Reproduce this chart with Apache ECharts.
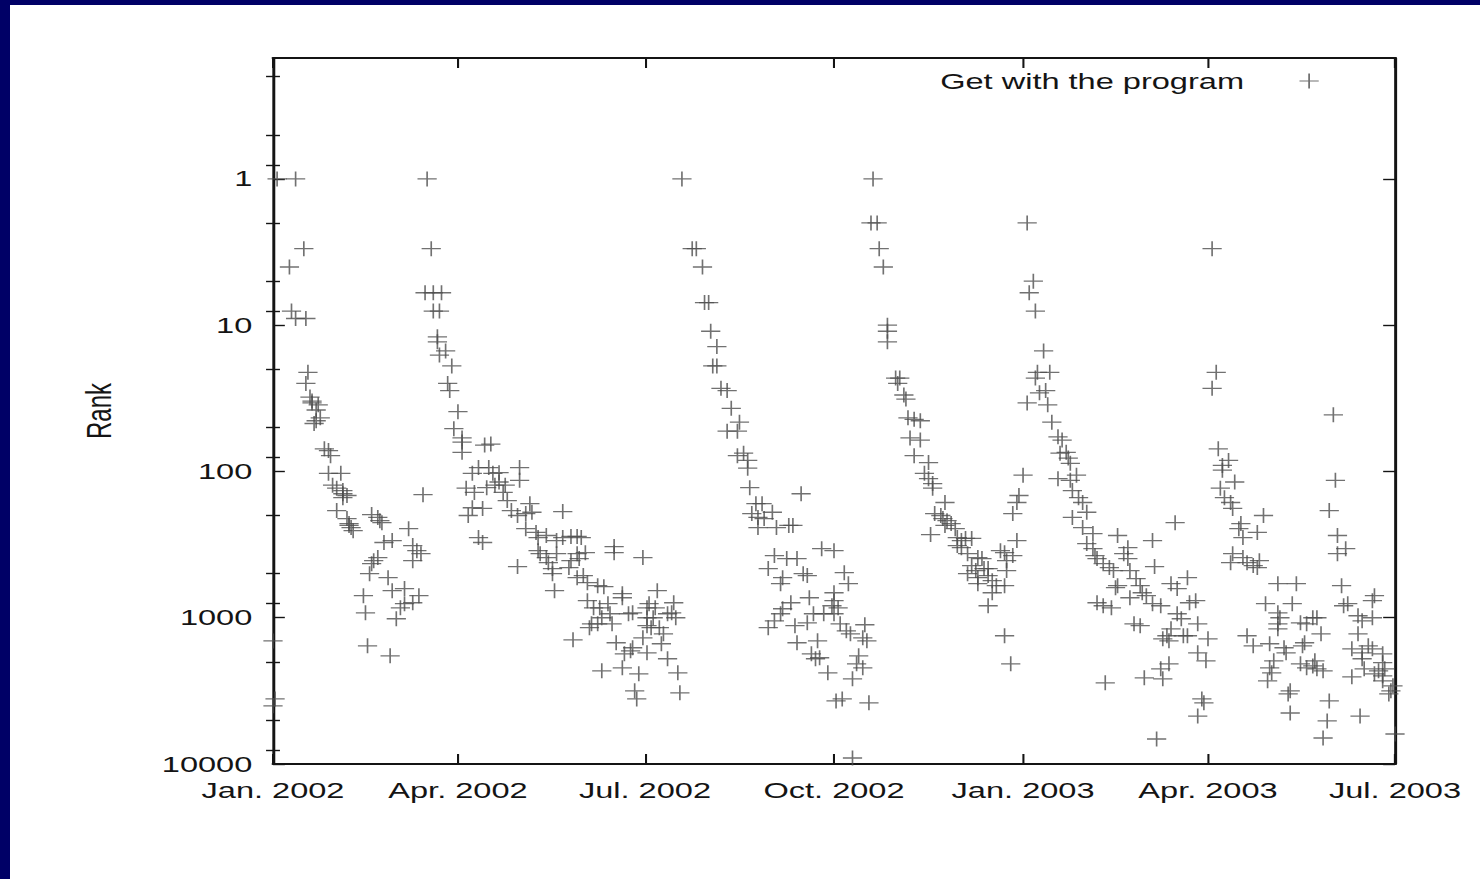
<!DOCTYPE html>
<html>
<head>
<meta charset="utf-8">
<title>Get with the program - rank over time</title>
<script src="https://cdn.jsdelivr.net/npm/echarts@6/dist/echarts.min.js"></script>
<style>
  html, body { margin: 0; padding: 0; width: 1480px; height: 879px; overflow: hidden; background: #000066; }
  #paper { position: absolute; left: 10px; top: 5px; right: 0; bottom: 0; background: #ffffff; }
  #chart { position: absolute; left: 0; top: 0; height: 879px; transform-origin: 0 0; }
</style>
</head>
<body>
<div id="paper"></div>
<div id="chart"></div>
<script>
// Daily chart rank of "Get with the program"; x = days since 1 Jan 2002, y = rank.
const q1_2002 = [
  [0,1440],[1,3590],[0,4000],[2,1],[11,1],[15,3],[8,4],[9,8],[11,9],[16,9],[17,21],[16,25],
  [18,31],[19,34],[19,33],[22,35],[21,38],[21,45],[20,47],[23,43],[25,70],[28,78],[27,72],
  [27,103],[33,103],[29,124],[31,130],[34,135],[34,142],[36,146],[34,151],[31,185],[36,210],
  [37,227],[38,242],[39,254],[37,234],[48,197],[51,206],[52,217],[53,224],[66,246],[54,306],
  [58,297],[68,321],[70,348],[72,365],[68,407],[51,388],[49,407],[48,427],[47,500],[56,532],
  [44,707],[58,653],[64,632],[71,707],[68,790],[64,802],[62,855],[45,925],[60,1016],[46,1555],
  [57,1820],[73,144],
  [75,1],[77,3],[74,6],[78,6],[82,6],[78,8],[81,8],[80,12],[80,13],[84,15],[81,16],[87,19],
  [85,25],[86,28],[88,51]
];
const q2_2002 = [
  [90,39],[92,63],[92,74],[92,59],[106,65],[103,66],[105,94],[100,94],[120,94],
  [97,103],[107,103],[110,102],[94,130],[98,139],[104,129],[108,124],[110,118],[113,124],
  [120,115],[112,139],[97,177],[102,179],[95,200],[114,158],[116,185],[119,200],[123,194],
  [125,166],[126,190],[141,188],[123,246],[128,261],[129,283],[133,274],[138,297],[141,283],
  [145,278],[148,278],[150,283],[100,283],[102,306],[166,326],[166,359],[180,388],[130,365],
  [133,388],[129,348],[138,365],[148,365],[152,359],[149,394],[119,447],[134,420],[136,461],
  [144,454],[145,407],[136,500],[148,532],[151,515],[153,576],[161,613],[158,604],[137,653],
  [170,685],[170,730],[153,765],[156,855],[159,855],[163,802],[164,939],[160,1000],[155,1100],
  [154,1170],[158,1100],[165,1100],[173,939],[175,925],[180,1371],[146,1415],[167,1483],
  [174,1683],[171,1764],[175,1604],[160,2306],[170,2199],[178,2418],[176,3162],[177,3589]
];
const q3_2002 = [
  [182,855],[182,1000],[182,1134],[187,653],[183,802],[186,855],[195,790],[185,1000],[192,939],
  [194,925],[196,1000],[188,1170],[184,1170],[190,1288],[189,1506],[182,1736],[192,1907],
  [197,2380],[198,3263],
  [199,1],[204,3],[206,3],[209,4],[210,7],[212,7],[213,11],[216,14],[214,19],[216,19],[218,27],
  [221,28],[223,37],[227,46],[221,53],[226,53],[226,78],[229,75],[231,84],
  [231,95],[232,129],[257,142],[235,166],[238,166],[233,194],[236,206],[239,210],[243,190],
  [236,242],[245,242],[251,234],[253,234],[267,337],[244,376],[250,394],[255,394],[241,461],
  [248,532],[247,585],[258,500],[260,515],[261,730],[252,790],[248,868],[247,939],[244,1049],
  [241,1170],[254,1134],[260,1083],[263,939],[268,939],[265,1438],[255,1483],[262,1764],
  [264,1907],[266,1877],[270,2380],[272,828]
];
const q4_2002 = [
  [273,348],[273,675],[273,765],[274,3702],[278,492],[280,585],[275,855],[273,939],[276,1100],
  [279,1228],[281,1288],[288,1117],[287,1371],[289,1438],[285,1820],[284,2066],[287,2199],
  [282,2616],[277,3589],[290,3820],[282,9100],
  [292,1],[291,2],[294,2],[295,3],[297,4],[299,10],[299,11],[299,13],[303,23],[305,23],[304,25],
  [307,30],[308,32],[309,43],[312,44],[315,45],[310,59],[315,61],[312,78],[319,87],
  [317,103],[319,112],[321,121],[321,130],[327,163],[322,194],[325,200],[326,210],[328,217],
  [327,234],[330,227],[332,246],[320,270],[333,283],[335,297],[337,287],[340,287],[333,321],
  [335,332],[338,365],[343,388],[345,394],[340,440],[342,476],[346,461],[348,461],[338,500],
  [343,532],[343,585],[348,515],[350,558],[352,604],[350,675],[356,604],[357,476],[354,348],
  [356,359],[360,376],[357,407],[348,828],[356,1328],[359,2066],[362,297],[360,194],[362,163],
  [363,146]
];
const q1_2003 = [
  [365,106],[367,2],[370,5],[368,6],[371,8],[375,15],[378,21],[372,21],[371,23],[376,28],
  [373,29],[367,34],[377,35],[379,46],[382,58],[384,61],[383,75],[386,74],[387,81],[388,88],
  [382,112],[388,115],[391,106],[389,135],[392,151],[394,163],[396,190],[389,206],[394,242],
  [399,266],[396,311],[399,337],[400,376],[401,394],[404,427],[407,454],[409,476],[411,274],
  [416,332],[414,365],[416,394],[428,297],[429,447],[439,224],[417,476],[420,540],[410,623],
  [411,604],[417,730],[422,604],[423,675],[425,707],[401,790],[404,828],[408,855],[428,802],
  [432,828],[437,585],[440,632],[445,532],[446,790],[449,765],[440,939],[442,1016],[419,1100],
  [422,1134],[437,1190],[435,1328],[433,1393],[436,1438],[443,1328],[445,1328],[450,1100],
  [450,1736],[454,1971],[436,2066],[432,2235],[424,2575],[433,2616],[405,2786],[452,3589],
  [453,3820],[450,4700],[430,6745]
];
const q2_2003 = [
  [455,1393],[457,3],[459,21],[457,27],[460,70],[465,84],[462,91],[462,98],[468,118],[461,130],
  [463,151],[466,163],[467,179],[482,200],[471,227],[470,246],[479,261],[472,283],[467,365],
  [466,420],[472,388],[474,420],[477,440],[480,407],[479,454],[517,115],[514,185],[516,41],
  [518,274],[522,337],[518,365],[489,585],[498,585],[520,604],[483,802],[496,802],[489,925],
  [490,1000],[506,1000],[500,1083],[503,1100],[508,1000],[489,1100],[489,1190],[523,802],
  [521,828],[536,707],[535,765],[528,969],[530,1049],[535,1000],[510,1288],[474,1328],
  [477,1555],[485,1506],[492,1604],[493,1736],[501,1555],[502,1483],[528,1288],[525,1630],
  [533,1555],[535,1630],[530,1736],[540,1764],[540,2030],[530,1907],[487,1971],[485,2199],
  [486,2380],[500,2066],[503,2199],[507,1971],[508,2235],[511,2306],[506,2135],[525,2535],
  [531,2235],[536,2418],[538,2306],[541,2235],[540,2495],[540,2700],[545,2922],[544,3162],
  [543,3316],[484,2700],[495,3162],[494,3316],[495,4480],[514,3702],[513,5072],[511,6640],
  [529,4700],[546,6234]
];

// Axis ticks and labels
const quarterTicks = [[2002,0],[2002,3],[2002,6],[2002,9],[2003,0],[2003,3],[2003,6]];
const monthNames = ['Jan.','Feb.','Mar.','Apr.','May','Jun.','Jul.','Aug.','Sep.','Oct.','Nov.','Dec.'];
const rankMajor = [1, 10, 100, 1000, 10000];
const rankMinor = [0.2, 0.5, 0.8, 2, 5, 8, 20, 50, 80, 200, 500, 800, 2000, 5000, 8000];
const rankTop = 0.149, rankBottom = 10000;
const seriesName = 'Get with the program';

// The drawing is laid out on a narrower canvas and widened horizontally.
const S = 1.48;
const W = 1480 / S;
const DAY = 86400000;
const START = Date.UTC(2002, 0, 1);
const lg = Math.log10;
const FONT = 'Liberation Sans';
const INK = '#141414';
const MARK = '#4d4d4d';
const CROSS = 'path://M0,7.5L13,7.5M6.5,0L6.5,15';

const el = document.getElementById('chart');
el.style.width = W + 'px';
el.style.transform = 'scaleX(' + S + ')';

// Quarter boundaries as day offsets from 1 Jan 2002
const quarterDays = quarterTicks.map(([y, m]) => Math.round((Date.UTC(y, m, 1) - START) / DAY));
const dayMax = quarterDays[quarterDays.length - 1];
const points = [].concat(q1_2002, q2_2002, q3_2002, q4_2002, q1_2003, q2_2003)
  .map(([d, r]) => [d, lg(r)]);

const frame = { show: true, onZero: false, lineStyle: { color: INK, width: 2 } };

function dayLabel(v) {
  const d = new Date(START + Math.round(v) * DAY);
  return monthNames[d.getUTCMonth()] + ' ' + d.getUTCFullYear();
}

function xAxisDef(position, withLabels) {
  return {
    type: 'value', position, min: 0, max: dayMax,
    axisLine: frame,
    axisTick: { show: true, inside: true, length: 10, customValues: quarterDays,
                lineStyle: { color: INK, width: 1.4 } },
    axisLabel: withLabels ? {
      show: true, customValues: quarterDays, margin: 15, hideOverlap: false,
      fontFamily: FONT, fontSize: 22, color: INK, formatter: dayLabel
    } : { show: false },
    splitLine: { show: false }
  };
}

function yAxisDef(position, ticks, len, opts) {
  return Object.assign({
    type: 'value', position, inverse: true, min: lg(rankTop), max: lg(rankBottom),
    axisLine: { show: false },
    axisTick: { show: true, inside: true, length: len, customValues: ticks.map(lg),
                lineStyle: { color: INK, width: 1.4 } },
    axisLabel: { show: false },
    splitLine: { show: false }
  }, opts || {});
}

const chart = echarts.init(el, null, { renderer: 'svg', width: W, height: 879 });
chart.setOption({
  animation: false,
  backgroundColor: 'transparent',
  grid: { left: 273 / S, right: (1480 - 1395) / S, top: 58, bottom: 879 - 764,
          containLabel: false, outerBoundsMode: 'none' },
  legend: {
    data: [seriesName], selectedMode: false, align: 'right',
    right: W - 1310 / S - 6.5, top: 70, padding: 0,
    itemWidth: 78, itemHeight: 15, icon: CROSS,
    itemStyle: { color: 'rgba(0,0,0,0)', borderColor: MARK, borderWidth: 1.2 },
    textStyle: { fontFamily: FONT, fontSize: 22, color: INK }
  },
  xAxis: [xAxisDef('bottom', true), xAxisDef('top', false)],
  yAxis: [
    yAxisDef('left', rankMajor, 8, {
      axisLine: frame,
      axisLabel: { show: true, customValues: rankMajor.map(lg), margin: 14, hideOverlap: false,
                   fontFamily: FONT, fontSize: 22, color: INK,
                   formatter: v => String(Math.round(Math.pow(10, v))) },
      name: 'Rank', nameLocation: 'middle', nameRotate: 90, nameGap: 106,
      nameTextStyle: { fontFamily: FONT, fontSize: 24, color: INK }
    }),
    yAxisDef('left', rankMinor, 4.7),
    yAxisDef('right', rankMajor, 8, { axisLine: frame }),
    yAxisDef('right', rankMinor, 4.7)
  ],
  series: [{
    name: seriesName, type: 'scatter', xAxisIndex: 0, yAxisIndex: 0,
    symbol: CROSS, symbolSize: [13, 15], symbolKeepAspect: false,
    itemStyle: { color: 'rgba(0,0,0,0)', borderColor: MARK, borderWidth: 1.2 },
    emphasis: { disabled: true },
    data: points
  }]
});
</script>
</body>
</html>
